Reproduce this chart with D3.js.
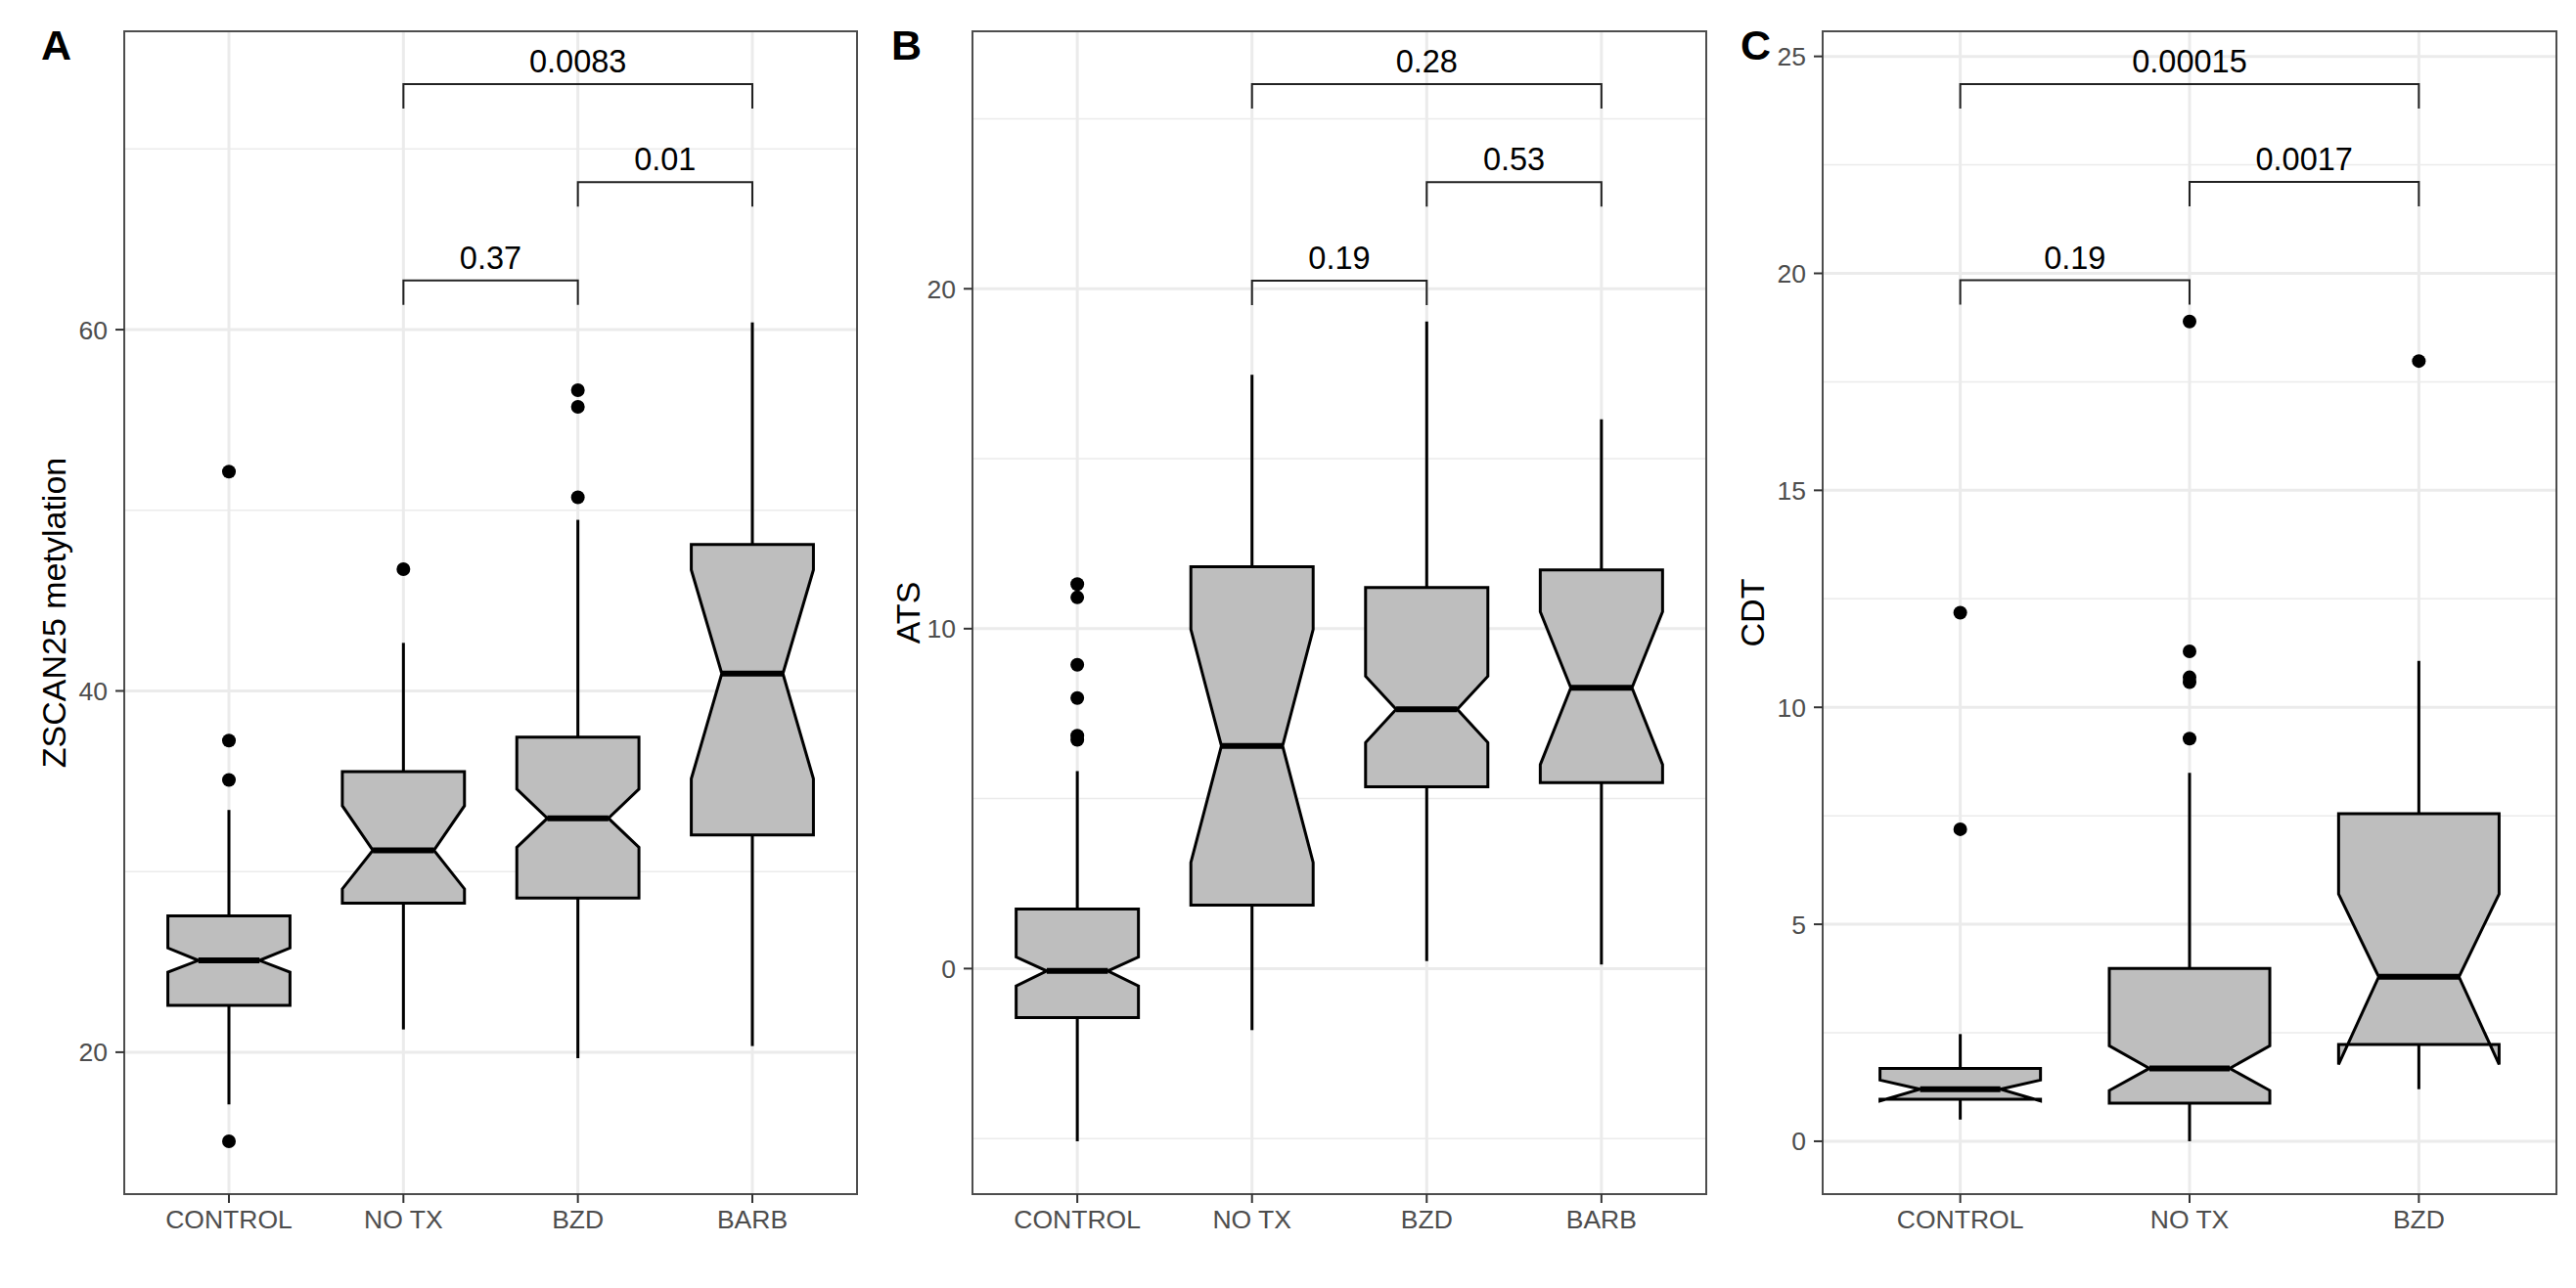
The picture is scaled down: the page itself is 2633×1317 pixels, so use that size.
<!DOCTYPE html>
<html>
<head>
<meta charset="utf-8">
<script src="https://cdn.jsdelivr.net/npm/d3@7"></script>
<style>
  html, body { margin: 0; padding: 0; background: #fff; }
  svg { display: block; }
  text { font-family: "Liberation Sans", Arial, Helvetica, sans-serif; }
</style>
</head>
<body>
<svg id="chart" width="2633" height="1317"></svg>
<script>
// ---------------- DATA ----------------
// Panel A : ZSCAN25 metylation
const groupsA   = ["CONTROL", "NO TX", "BZD", "BARB"];
const aLower    = [17.11, 21.26, 19.67, 20.34];
const aQ1       = [22.59, 28.25, 28.53, 32.03];
const aNotchLo  = [24.43, 29.04, 31.34, 35.14];
const aMedian   = [25.08, 31.18, 32.95, 40.96];
const aNotchHi  = [25.77, 33.64, 34.56, 46.70];
const aQ3       = [27.54, 35.53, 37.44, 48.10];
const aUpper    = [33.41, 42.66, 49.47, 60.40];
const aOutliers = [[15.07, 35.07, 37.25, 52.14], [46.74], [50.72, 55.73, 56.65], []];
const aTicks    = [20, 40, 60];
const aMinor    = [30, 50, 70];
const aCompFrom = ["NO TX", "BZD", "NO TX"];
const aCompTo   = ["BZD", "BARB", "BARB"];
const aCompY    = [62.72, 68.17, 73.59];
const aCompP    = ["0.37", "0.01", "0.0083"];

// Panel B : ATS
const groupsB   = ["CONTROL", "NO TX", "BZD", "BARB"];
const bLower    = [-5.08, -1.81, 0.22, 0.12];
const bQ1       = [-1.44, 1.87, 5.35, 5.47];
const bNotchLo  = [-0.51, 3.12, 6.65, 6.00];
const bMedian   = [-0.07, 6.55, 7.63, 8.26];
const bNotchHi  = [0.34, 9.98, 8.60, 10.50];
const bQ3       = [1.75, 11.82, 11.21, 11.73];
const bUpper    = [5.81, 17.47, 19.04, 16.16];
const bOutliers = [[6.73, 6.85, 7.96, 8.94, 10.92, 11.31], [], [], []];
const bTicks    = [0, 10, 20];
const bMinor    = [-5, 5, 15, 25];
const bCompFrom = ["NO TX", "BZD", "NO TX"];
const bCompTo   = ["BZD", "BARB", "BARB"];
const bCompY    = [20.24, 23.14, 26.02];
const bCompP    = ["0.19", "0.53", "0.28"];

// Panel C : CDT
const groupsC   = ["CONTROL", "NO TX", "BZD"];
const cLower    = [0.50, 0.00, 1.20];
const cQ1       = [0.97, 0.88, 2.23];
const cNotchLo  = [0.93, 1.17, 1.77];
const cMedian   = [1.20, 1.68, 3.79];
const cNotchHi  = [1.41, 2.20, 5.70];
const cQ3       = [1.68, 3.98, 7.55];
const cUpper    = [2.47, 8.49, 11.07];
const cOutliers = [[7.19, 12.18], [9.28, 10.58, 10.69, 11.29, 18.89], [17.98]];
const cTicks    = [0, 5, 10, 15, 20, 25];
const cMinor    = [2.5, 7.5, 12.5, 17.5, 22.5];
const cCompFrom = ["CONTROL", "NO TX", "CONTROL"];
const cCompTo   = ["NO TX", "BZD", "BZD"];
const cCompY    = [19.84, 22.11, 24.36];
const cCompP    = ["0.19", "0.0017", "0.00015"];

// ---------------- PANEL ASSEMBLY ----------------
function buildStats(groups, lo, q1, nlo, med, nhi, q3, up, outs) {
  return groups.map((g, i) => ({ group: g, lower: lo[i], q1: q1[i], notchLo: nlo[i],
    median: med[i], notchHi: nhi[i], q3: q3[i], upper: up[i], outliers: outs[i] }));
}
function buildComps(from, to, y, p) {
  return from.map((f, i) => ({ from: f, to: to[i], y: y[i], label: p[i] }));
}

const panels = [
  { tag: "A", title: "ZSCAN25 metylation", groups: groupsA,
    stats: buildStats(groupsA, aLower, aQ1, aNotchLo, aMedian, aNotchHi, aQ3, aUpper, aOutliers),
    comps: buildComps(aCompFrom, aCompTo, aCompY, aCompP), ticks: aTicks, minor: aMinor,
    x0: 127, x1: 876, tagX: 42, titleX: 67 },
  { tag: "B", title: "ATS", groups: groupsB,
    stats: buildStats(groupsB, bLower, bQ1, bNotchLo, bMedian, bNotchHi, bQ3, bUpper, bOutliers),
    comps: buildComps(bCompFrom, bCompTo, bCompY, bCompP), ticks: bTicks, minor: bMinor,
    x0: 994, x1: 1744, tagX: 911, titleX: 940 },
  { tag: "C", title: "CDT", groups: groupsC,
    stats: buildStats(groupsC, cLower, cQ1, cNotchLo, cMedian, cNotchHi, cQ3, cUpper, cOutliers),
    comps: buildComps(cCompFrom, cCompTo, cCompY, cCompP), ticks: cTicks, minor: cMinor,
    x0: 1863, x1: 2613, tagX: 1779, titleX: 1803 }
];

const Y0 = 32, Y1 = 1221;
const svg = d3.select("#chart");
svg.append("rect").attr("width", 2633).attr("height", 1317).attr("fill", "#fff");

panels.forEach(p => {
  // y domain: data range expanded by 5% (ggplot default)
  const allVals = [];
  p.stats.forEach(s => { allVals.push(s.lower, s.upper, ...s.outliers); });
  p.comps.forEach(c => allVals.push(c.y));
  const mn = d3.min(allVals), mx = d3.max(allVals), r = mx - mn;
  const y = d3.scaleLinear().domain([mn - 0.05 * r, mx + 0.05 * r]).range([Y1, Y0]);
  const x = d3.scalePoint().domain(p.groups).range([p.x0, p.x1]).padding(0.6);
  const bw = x.step() * 0.7;
  const g = svg.append("g");

  // grid
  const grid = g.append("g");
  grid.selectAll("line.minor").data(p.minor.filter(v => y(v) >= Y0 && y(v) <= Y1)).join("line")
    .attr("x1", p.x0).attr("x2", p.x1).attr("y1", d => y(d)).attr("y2", d => y(d))
    .attr("stroke", "#EBEBEB").attr("stroke-width", 1.5);
  grid.selectAll("line.majy").data(p.ticks).join("line")
    .attr("x1", p.x0).attr("x2", p.x1).attr("y1", d => y(d)).attr("y2", d => y(d))
    .attr("stroke", "#EBEBEB").attr("stroke-width", 3);
  grid.selectAll("line.majx").data(p.groups).join("line")
    .attr("y1", Y0).attr("y2", Y1).attr("x1", d => x(d)).attr("x2", d => x(d))
    .attr("stroke", "#EBEBEB").attr("stroke-width", 3);

  // boxes
  const boxes = g.append("g").selectAll("g").data(p.stats).join("g");
  // whiskers
  boxes.append("line").attr("x1", d => x(d.group)).attr("x2", d => x(d.group))
    .attr("y1", d => y(d.q3)).attr("y2", d => y(d.upper))
    .attr("stroke", "#000").attr("stroke-width", 3);
  boxes.append("line").attr("x1", d => x(d.group)).attr("x2", d => x(d.group))
    .attr("y1", d => y(d.q1)).attr("y2", d => y(d.lower))
    .attr("stroke", "#000").attr("stroke-width", 3);
  // notched box polygon
  boxes.append("path").attr("d", d => {
    const xm = x(d.group), xa = xm - bw / 2, xb = xm + bw / 2, ind = bw * 0.25;
    const pts = [[xa, y(d.q3)], [xa, y(d.notchHi)], [xa + ind, y(d.median)], [xa, y(d.notchLo)],
      [xa, y(d.q1)], [xb, y(d.q1)], [xb, y(d.notchLo)], [xb - ind, y(d.median)],
      [xb, y(d.notchHi)], [xb, y(d.q3)]];
    return d3.line()(pts) + "Z";
  }).attr("fill", "#BEBEBE").attr("stroke", "#000").attr("stroke-width", 3)
    .attr("stroke-linejoin", "miter");
  // median
  boxes.append("line")
    .attr("x1", d => x(d.group) - bw / 2 + bw * 0.25).attr("x2", d => x(d.group) + bw / 2 - bw * 0.25)
    .attr("y1", d => y(d.median)).attr("y2", d => y(d.median))
    .attr("stroke", "#000").attr("stroke-width", 6);
  // outliers
  boxes.selectAll("circle").data(d => d.outliers.map(v => ({ group: d.group, v }))).join("circle")
    .attr("cx", d => x(d.group)).attr("cy", d => y(d.v)).attr("r", 7).attr("fill", "#000");

  // comparison brackets
  const tip = 25;
  const br = g.append("g").selectAll("g").data(p.comps).join("g");
  br.append("path").attr("d", d => {
    const xa = x(d.from), xb = x(d.to), yy = y(d.y);
    return `M${xa},${yy + tip}V${yy}H${xb}V${yy + tip}`;
  }).attr("fill", "none").attr("stroke", "#222").attr("stroke-width", 2);
  br.append("text").attr("x", d => (x(d.from) + x(d.to)) / 2).attr("y", d => y(d.y) - 12)
    .attr("text-anchor", "middle").attr("font-size", 32.5).attr("fill", "#000").text(d => d.label);

  // panel border
  g.append("rect").attr("x", p.x0).attr("y", Y0).attr("width", p.x1 - p.x0).attr("height", Y1 - Y0)
    .attr("fill", "none").attr("stroke", "#4d4d4d").attr("stroke-width", 2);

  // y axis ticks & labels
  const ya = g.append("g");
  ya.selectAll("line").data(p.ticks).join("line")
    .attr("x1", p.x0 - 9).attr("x2", p.x0).attr("y1", d => y(d)).attr("y2", d => y(d))
    .attr("stroke", "#333").attr("stroke-width", 2);
  ya.selectAll("text").data(p.ticks).join("text")
    .attr("x", p.x0 - 17).attr("y", d => y(d) + 9.5).attr("text-anchor", "end")
    .attr("font-size", 26.5).attr("fill", "#4D4D4D").text(d => d);

  // x axis ticks & labels
  const xa = g.append("g");
  xa.selectAll("line").data(p.groups).join("line")
    .attr("x1", d => x(d)).attr("x2", d => x(d)).attr("y1", Y1).attr("y2", Y1 + 9)
    .attr("stroke", "#333").attr("stroke-width", 2);
  xa.selectAll("text").data(p.groups).join("text")
    .attr("x", d => x(d)).attr("y", 1256).attr("text-anchor", "middle")
    .attr("font-size", 26.5).attr("fill", "#4D4D4D").text(d => d);

  // y title
  g.append("text").attr("transform", `translate(${p.titleX},${(Y0 + Y1) / 2}) rotate(-90)`)
    .attr("text-anchor", "middle").attr("font-size", 34).attr("fill", "#000").text(p.title);

  // panel tag
  g.append("text").attr("x", p.tagX).attr("y", 61).attr("font-size", 43).attr("font-weight", "bold")
    .attr("fill", "#000").text(p.tag);
});
</script>
</body>
</html>
